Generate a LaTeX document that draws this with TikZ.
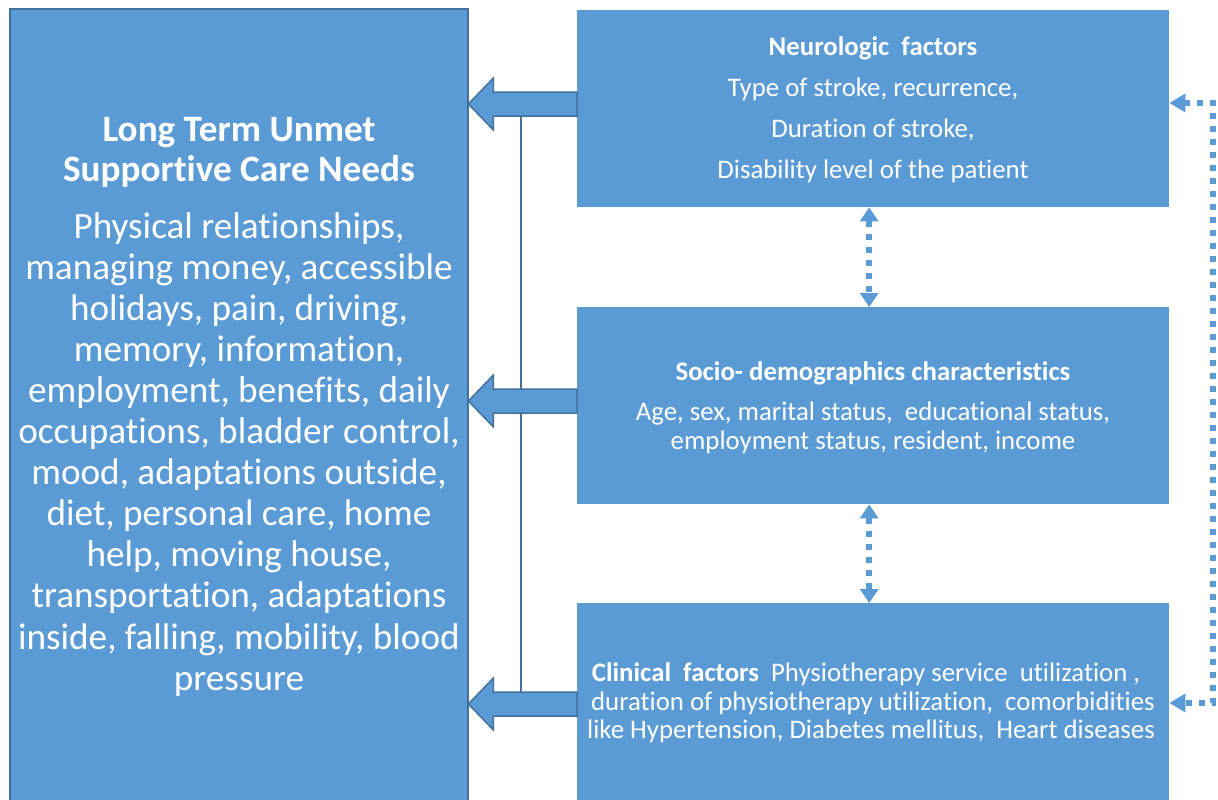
\documentclass[tikz,border=0pt]{standalone}
\usepackage{fontspec}
\setmainfont{Carlito}[Ligatures={NoCommon,NoDiscretionary,NoContextual}]
\usetikzlibrary{arrows.meta,calc}
\definecolor{boxblue}{HTML}{5B9BD5}
\definecolor{edgeblue}{HTML}{41719C}
\begin{document}
\begin{tikzpicture}[x=1pt,y=-1pt,
  bluebox/.style={fill=boxblue,draw=none},
  leftbox/.style={fill=boxblue,draw=edgeblue,line width=1.5pt},
  blockarrow/.style={fill=boxblue,draw=edgeblue,line width=1.5pt,line join=miter},
  dotarrow/.style={draw=boxblue,line width=6pt,dash pattern=on 6pt off 7pt,
    {Triangle[width=18pt,length=14pt]}-{Triangle[width=18pt,length=14pt]}},
  sidearrow/.style={draw=boxblue,line width=6pt,dash pattern=on 6pt off 7pt,
    {Triangle[width=18pt,length=16pt]}-{Triangle[width=18pt,length=16pt]}},
  bigtxt/.style={text=white,inner sep=0pt,anchor=base,font=\fontsize{37.2}{41}\selectfont},
  titletxt/.style={text=white,inner sep=0pt,anchor=base,font=\fontsize{37.2}{41}\selectfont\bfseries},
  smalltxt/.style={text=white,inner sep=0pt,anchor=base,font=\fontsize{26.8}{29}\selectfont},
  smallbold/.style={text=white,inner sep=0pt,anchor=base,font=\fontsize{26.8}{29}\selectfont\bfseries}]
\useasboundingbox (0,0) rectangle (1218,800);
\clip (0,0) rectangle (1218,800);
% boxes
\draw[leftbox] (10,9) rectangle (468,806);
\path[bluebox] (577,10) rectangle (1169,207);
\path[bluebox] (577,307) rectangle (1169,504);
\path[bluebox] (577,603) rectangle (1169,806);
\node[inner sep=0pt,minimum width=458pt,minimum height=797pt,anchor=north west] (lbox) at (10,9) {};
\node[inner sep=0pt,minimum width=592pt,minimum height=197pt,anchor=north west] (nbox) at (577,10) {};
\node[inner sep=0pt,minimum width=592pt,minimum height=197pt,anchor=north west] (sbox) at (577,307) {};
\node[inner sep=0pt,minimum width=592pt,minimum height=197pt,anchor=north west] (cbox) at (577,603) {};
% left texts
\node[titletxt] (lt1) at (239,141) {Long Term Unmet};
\node[titletxt] (lt2) at (239,181) {Supportive Care Needs};
\foreach \t [count=\i from 0] in {{Physical relationships,},{managing money, accessible},{holidays, pain, driving,},{memory, information,},{employment, benefits, daily},{occupations, bladder control,},{mood, adaptations outside,},{diet, personal care, home},{help, moving house,},{transportation, adaptations},{inside, falling, mobility, blood},{pressure}}
  \node[bigtxt] (lb\i) at (239,238+41.1*\i) {\t};
% right texts
\node[smallbold] (n0) at (873,56) {Neurologic\ \ factors};
\node[smalltxt] (n1) at (873,96) {Type of stroke, recurrence,};
\node[smalltxt] (n2) at (873,137) {Duration of stroke,};
\node[smalltxt] (n3) at (873,178) {Disability level of the patient};
\node[smallbold] (s0) at (873,380) {Socio- demographics characteristics};
\node[smalltxt] (s1) at (873,420) {Age, sex, marital status,\ \ educational status,};
\node[smalltxt] (s2) at (873,449) {employment status, resident, income};
\node[smalltxt] (c1) at (866,681) {\textbf{Clinical\ \ factors}\ \ Physiotherapy service\ \ utilization ,};
\node[smalltxt] (c2) at (873,710) {duration of physiotherapy utilization,\ \ comorbidities};
\node[smalltxt] (c3) at (871,738) {like Hypertension, Diabetes mellitus,\ \ Heart diseases};
% vertical line behind block arrows
\coordinate (vtop) at (521,116);
\coordinate (vbot) at (521,692);
\draw[edgeblue,line width=1.5pt] (vtop) -- (vbot);
% block arrows
\foreach \c/\nm in {104/ta,401/ma,704/ba}{
  \coordinate (\nm) at (lbox.east |- 0,\c);
  \draw[blockarrow] (\nm) -- ++(25,-26) -- ++(0,14) -- (nbox.west |- 0,\c-12)
     -- (nbox.west |- 0,\c+12) -- ($(\nm)+(25,12)$) -- ++(0,14) -- cycle;
}
% dotted double arrows
\draw[dotarrow] ([xshift=-4pt]nbox.south) -- ([xshift=-4pt]sbox.north);
\draw[dotarrow] ([xshift=-4pt]sbox.south) -- ([xshift=-4pt]cbox.north);
\coordinate (rt) at (nbox.east |- 0,103);
\coordinate (rb) at (cbox.east |- 0,703);
\draw[sidearrow] (rt) -- (1213,103) -- (1213,703) -- (rb);
\end{tikzpicture}
\end{document}
